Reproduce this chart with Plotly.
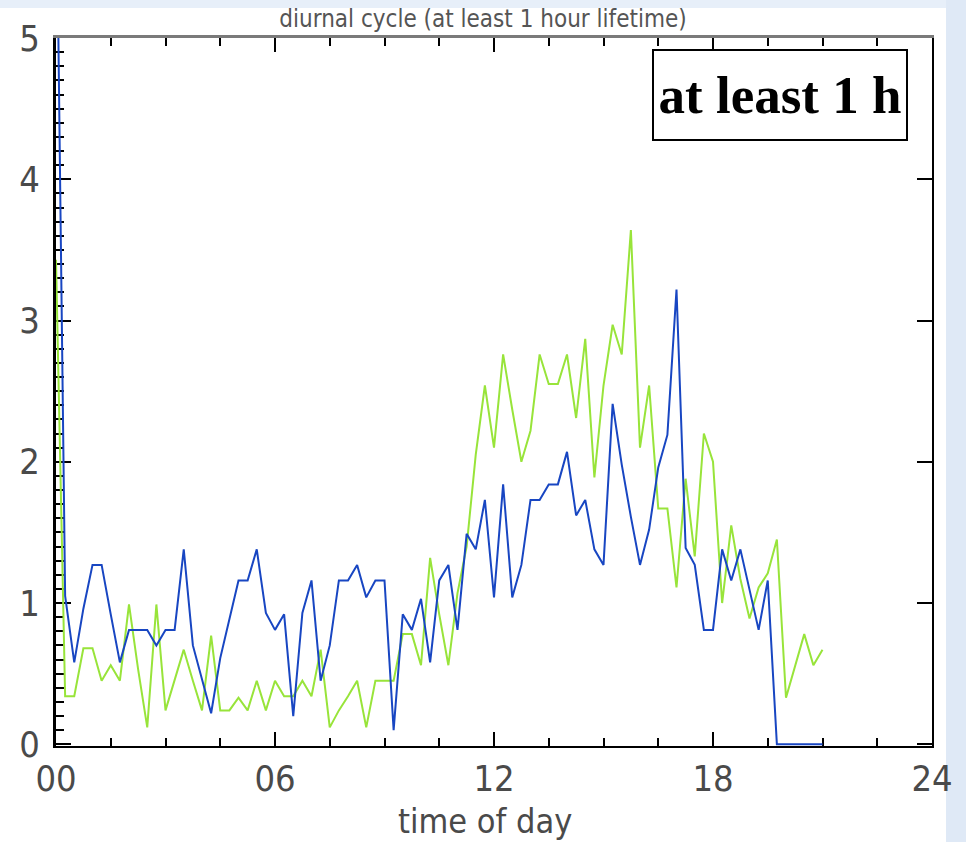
import plotly.graph_objects as go

# ---------------- data (15-minute bins, hours 0 .. 21) ----------------
STEP_HOURS = 0.25
BLUE = [6.4, 1.05, 0.58, 0.96, 1.27, 1.27, 0.92, 0.58, 0.81, 0.81,
        0.81, 0.70, 0.81, 0.81, 1.38, 0.70, 0.45, 0.22, 0.61, 0.89,
        1.16, 1.16, 1.38, 0.93, 0.81, 0.92, 0.20, 0.93, 1.16, 0.45,
        0.70, 1.16, 1.16, 1.27, 1.04, 1.16, 1.16, 0.10, 0.92, 0.81,
        1.03, 0.58, 1.16, 1.27, 0.81, 1.49, 1.38, 1.73, 1.04, 1.84,
        1.04, 1.27, 1.73, 1.73, 1.84, 1.84, 2.07, 1.62, 1.73, 1.38,
        1.27, 2.41, 1.98, 1.61, 1.27, 1.52, 1.96, 2.19, 3.22, 1.39,
        1.27, 0.81, 0.81, 1.38, 1.16, 1.38, 1.09, 0.81, 1.16, 0.00,
        0.00, 0.00, 0.00, 0.00, 0.00]
GREEN = [3.43, 0.34, 0.34, 0.68, 0.68, 0.45, 0.56, 0.45, 0.99, 0.53,
         0.12, 0.99, 0.24, 0.46, 0.67, 0.45, 0.24, 0.77, 0.24, 0.24,
         0.33, 0.24, 0.45, 0.24, 0.45, 0.34, 0.34, 0.45, 0.34, 0.67,
         0.12, 0.24, 0.34, 0.45, 0.12, 0.45, 0.45, 0.45, 0.78, 0.78,
         0.56, 1.32, 0.92, 0.56, 1.07, 1.40, 2.05, 2.54, 2.10, 2.76,
         2.37, 2.00, 2.22, 2.76, 2.55, 2.55, 2.76, 2.31, 2.87, 1.89,
         2.54, 2.97, 2.76, 3.64, 2.10, 2.54, 1.67, 1.67, 1.11, 1.88,
         1.33, 2.20, 2.00, 1.00, 1.55, 1.17, 0.89, 1.11, 1.21, 1.45,
         0.33, 0.56, 0.78, 0.56, 0.67]
HOURS = [i * STEP_HOURS for i in range(len(BLUE))]

X_TICK_VALS = [0, 6, 12, 18, 24]
X_TICK_TEXT = ["00", "06", "12", "18", "24"]
Y_TICK_VALS = [0, 1, 2, 3, 4, 5]
Y_TICK_TEXT = ["0", "1", "2", "3", "4", "5"]

TITLE = "diurnal cycle (at least 1 hour lifetime)"
X_TITLE = "time of day"
BOX_TEXT = "at least 1 h"

# ---------------- styles ----------------
W, H = 966, 842
ML, MR, MT, MB = 56, 34, 38, 96
PW, PH = W - ML - MR, H - MT - MB
BLUE_C = "#1846c2"
GREEN_C = "#98e43a"
LABEL_FONT = dict(family="DejaVu Sans Condensed, DejaVu Sans, sans-serif", size=36,
                  color="#4a4a4a", weight=200)
XTITLE_FONT = dict(family="DejaVu Sans Condensed, DejaVu Sans, sans-serif", size=34,
                   color="#4a4a4a", weight=200)


def px_x(px):
    return (px - ML) / PW


def px_y(py):
    return (H - MB - py) / PH


fig = go.Figure()
fig.add_trace(go.Scatter(x=HOURS, y=GREEN, mode="lines", line=dict(color=GREEN_C, width=2),
                         showlegend=False, hoverinfo="x+y"))
fig.add_trace(go.Scatter(x=HOURS, y=BLUE, mode="lines", line=dict(color=BLUE_C, width=2),
                         showlegend=False, hoverinfo="x+y"))
# helper trace so the top / right frame axes are drawn
fig.add_trace(go.Scatter(x=[None], y=[None], xaxis="x2", yaxis="y2", showlegend=False, hoverinfo="skip"))

YR = [-0.012, 5]
fig.update_layout(
    width=W, height=H,
    margin=dict(l=ML, r=MR, t=MT, b=MB, autoexpand=False),
    paper_bgcolor="white", plot_bgcolor="white",
    title=dict(text=TITLE, x=0.5, xref="container", xanchor="center",
               y=1 - 19 / H, yref="container", yanchor="middle",
               font=dict(family="DejaVu Sans Condensed, DejaVu Sans, sans-serif", size=24,
                         color="#555", weight=200)),
    xaxis=dict(range=[0, 24], tickvals=X_TICK_VALS, ticktext=X_TICK_TEXT,
               ticks="inside", ticklen=14, tickwidth=2, tickcolor="black",
               minor=dict(dtick=1.5, tick0=0, ticks="inside", ticklen=8, tickwidth=2, tickcolor="black"),
               showline=True, linecolor="black", linewidth=2, showgrid=False, zeroline=False,
               tickfont=LABEL_FONT, ticklabelstandoff=0, automargin=False,
               layer="below traces"),
    xaxis2=dict(range=[0, 24], overlaying="x", side="top", tickvals=X_TICK_VALS,
                ticks="inside", ticklen=14, tickwidth=2, tickcolor="black",
                minor=dict(dtick=1.5, tick0=0, ticks="inside", ticklen=8, tickwidth=2, tickcolor="black"),
                showline=True, linecolor="#7a7a7a", linewidth=3, showgrid=False, zeroline=False,
                showticklabels=False, automargin=False),
    yaxis=dict(range=YR, tickvals=Y_TICK_VALS, ticktext=Y_TICK_TEXT,
               ticks="inside", ticklen=15, tickwidth=2, tickcolor="black",
               minor=dict(dtick=0.1, tick0=0, ticks="inside", ticklen=8, tickwidth=2, tickcolor="black"),
               showline=True, linecolor="black", linewidth=3, showgrid=False, zeroline=False,
               tickfont=LABEL_FONT, ticklabelstandoff=6, automargin=False, layer="below traces"),
    yaxis2=dict(range=YR, overlaying="y", side="right", tickvals=Y_TICK_VALS,
                ticks="inside", ticklen=15, tickwidth=2, tickcolor="black",
                showline=True, linecolor="black", linewidth=2, showgrid=False, zeroline=False,
                showticklabels=False, automargin=False),
    shapes=[
        dict(type="rect", xref="paper", yref="paper", layer="below",
             x0=px_x(0), x1=px_x(W), y0=px_y(8), y1=px_y(0),
             fillcolor="#e7eff9", line=dict(width=0)),
        dict(type="rect", xref="paper", yref="paper", layer="below",
             x0=px_x(946), x1=px_x(W), y0=px_y(H), y1=px_y(0),
             fillcolor="#dfe9f6", line=dict(width=0)),
    ],
    annotations=[
        dict(text=X_TITLE, xref="paper", yref="paper", x=px_x(485), y=px_y(821),
             xanchor="center", yanchor="middle", showarrow=False, font=XTITLE_FONT),
        dict(text=BOX_TEXT, xref="paper", yref="paper", x=px_x(780), y=px_y(95),
             xanchor="center", yanchor="middle", showarrow=False,
             width=248, height=84, borderpad=2, borderwidth=2, bordercolor="black", bgcolor="white",
             font=dict(family="Liberation Serif, Times New Roman, serif", size=53, color="black", weight="bold")),
    ],
)

fig.write_html("out.html")
